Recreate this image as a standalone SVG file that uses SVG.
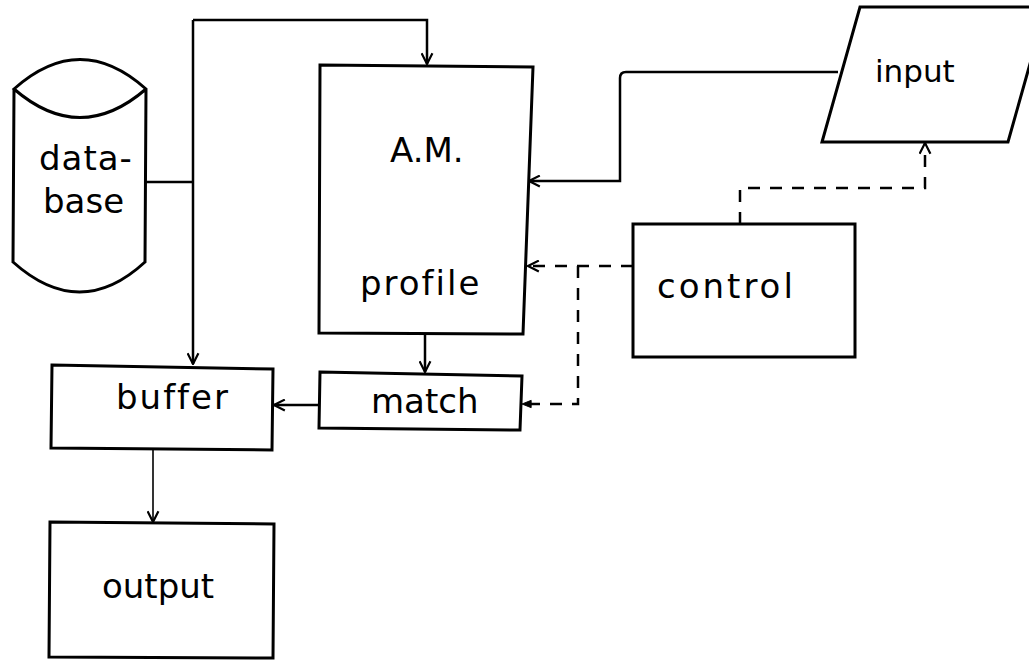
<svg xmlns="http://www.w3.org/2000/svg" width="1029" height="661" viewBox="0 0 1029 661">
<defs>
<marker id="arr" viewBox="0 0 12 12" refX="11" refY="6" markerWidth="13" markerHeight="13" markerUnits="userSpaceOnUse" orient="auto">
<path d="M1,1 L11,6 L1,11" fill="none" stroke="#000" stroke-width="2"/>
</marker>
<marker id="arrf" viewBox="0 0 12 12" refX="11" refY="6" markerWidth="11" markerHeight="11" markerUnits="userSpaceOnUse" orient="auto">
<path d="M1,2 L11,6 L1,10 Z" fill="#000" stroke="#000" stroke-width="1"/>
</marker>
<style>
.box{fill:#fff;stroke:#000;stroke-width:3}
.ln{fill:none;stroke:#000;stroke-width:2.5}
.thin{fill:none;stroke:#000;stroke-width:1.6}
.dash{fill:none;stroke:#000;stroke-width:2.5;stroke-dasharray:12 10}
.t{font-family:"DejaVu Sans","Liberation Sans",sans-serif;font-size:34px;fill:#000}
</style>
</defs>
<rect width="1029" height="661" fill="#fff"/>
<g id="connectors">
<path class="ln" d="M146,182 H193"/>
<path class="ln" d="M193,20 V364" marker-end="url(#arr)"/>
<path class="ln" d="M193,20 H427 V64" marker-end="url(#arr)"/>
<path class="ln" d="M838,72 H626 Q620,72 620,78 V181 H529" marker-end="url(#arr)"/>
<path class="dash" d="M740,224 V188 H925 V143" marker-end="url(#arr)"/>
<path class="dash" d="M633,266 H528" marker-end="url(#arr)"/>
<path class="dash" d="M578,266 V404 H522" marker-end="url(#arrf)"/>
<path class="ln" d="M425,333 V372" marker-end="url(#arr)"/>
<path class="ln" d="M320,405 H274" marker-end="url(#arr)"/>
<path class="thin" d="M153,448 V522" marker-end="url(#arr)"/>
</g>
<g id="database">
<path class="box" d="M14,89 L13,262 Q80,322 145,262 L146,89 Q80,30 14,89 Q80,146 146,89"/>
<text class="t" x="39" y="170" letter-spacing="1">data-</text>
<text class="t" x="43" y="213">base</text>
</g>
<g id="am-profile">
<path class="box" d="M320,65 L533,67 L523,334 L319,333 Z"/>
<text class="t" x="390" y="162" font-size="33">A.M.</text>
<text class="t" x="360" y="295" letter-spacing="2">profile</text>
</g>
<g id="input">
<path class="box" d="M860,7 L1046,7 L1008,142 L822,142 Z"/>
<text class="t" x="875" y="82" style="font-size:31px">input</text>
</g>
<g id="control">
<rect class="box" x="633" y="224" width="222" height="133"/>
<text class="t" x="657" y="298" letter-spacing="3">control</text>
</g>
<g id="match">
<path class="box" d="M320,372 L522,376 L520,430 L319,428 Z"/>
<text class="t" x="371" y="413">match</text>
</g>
<g id="buffer">
<path class="box" d="M52,365 L273,369 L272,450 L51,448 Z"/>
<text class="t" x="116" y="409" letter-spacing="2">buffer</text>
</g>
<g id="output">
<path class="box" d="M50,522 L274,524 L273,658 L49,657 Z"/>
<text class="t" x="102" y="598">output</text>
</g>
</svg>
